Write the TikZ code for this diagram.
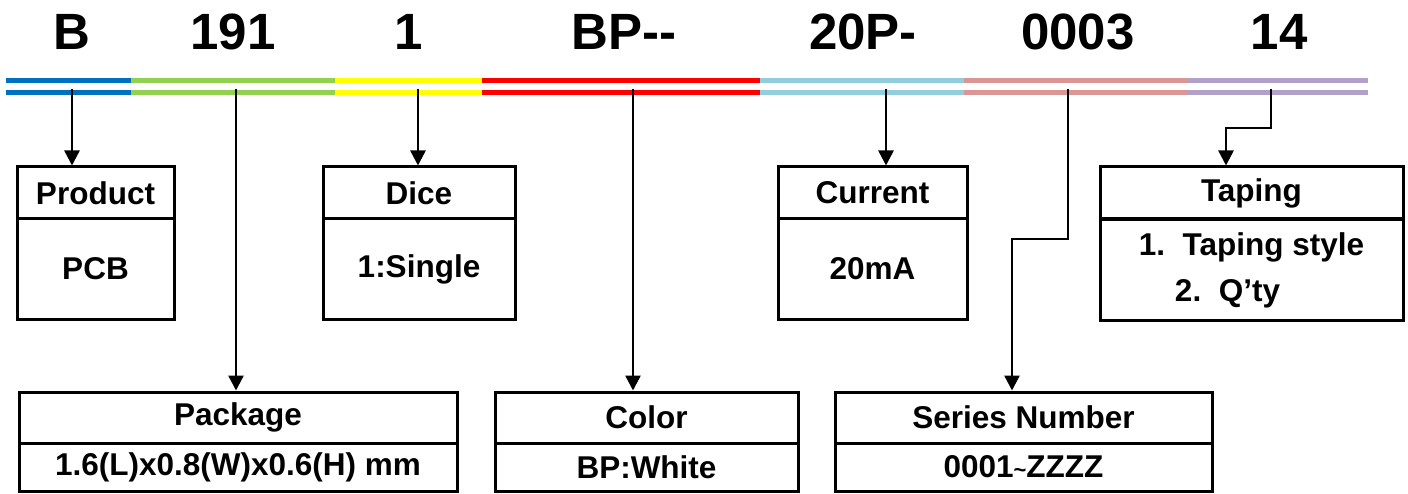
\documentclass[tikz,border=0pt]{standalone}
\usepackage{fontspec}
\setmainfont{Liberation Sans}
\usetikzlibrary{arrows.meta}

\definecolor{segblue}{HTML}{0070C0}
\definecolor{seggreen}{HTML}{92D050}
\definecolor{segyellow}{HTML}{FFFF00}
\definecolor{segred}{HTML}{FF0000}
\definecolor{segcyan}{HTML}{92CDDC}
\definecolor{segpink}{HTML}{DA9694}
\definecolor{segpurple}{HTML}{B1A0C7}

\begin{document}
\begin{tikzpicture}[line width = 2.5pt, x = 1pt, y = -1pt,
                        code/.style = {anchor = base, font = \fontsize{51}{60}\selectfont\bfseries},
                        box/.style = {rectangle, draw, line width = 3pt, inner sep = 0pt,
                                      align = center, font = \fontsize{31.5}{46}\selectfont\bfseries},
                        bar/.style = {line width = 5.3pt},
                        tip/.style = {-{Triangle[length = 15pt, width = 15pt]}}]
      \useasboundingbox (0, 0) rectangle (1408, 494);

      % part number
      \node [code] (cb) at (72, 50){B};
      \node [code] (c191) at (233, 50){191};
      \node [code] (c1) at (409, 50){1};
      \node [code] (cbp) at (624, 50){BP-{}-};
      \node [code] (c20p) at (863, 50){20P-};
      \node [code] (c0003) at (1078, 50){0003};
      \node [code] (c14) at (1279, 50){14};

      % colour bars
      \foreach \a/\b/\c in {6/131/segblue, 131/335/seggreen, 335/482/segyellow, 482/760/segred,
                            760/964/segcyan, 964/1188/segpink, 1188/1368/segpurple}{
        \draw [bar, \c] (\a, 80.5) -- (\b, 80.5);
        \draw [bar, \c] (\a, 92.5) -- (\b, 92.5);
      }

      \coordinate (pb) at (72, 89);
      \coordinate (p191) at (236, 89);
      \coordinate (p1) at (418, 89);
      \coordinate (pbp) at (633, 89);
      \coordinate (p20p) at (886, 89);
      \coordinate (p0003) at (1068, 89);
      \coordinate (p14) at (1271, 89);

      % upper boxes
      \node [box, minimum width = 157pt, minimum height = 52pt] (prodhead) at (95.5, 193){Product};
      \node [box, minimum width = 157pt, minimum height = 100pt] (prodbody) at (95.5, 269){PCB};
      \node [box, minimum width = 192pt, minimum height = 52pt] (dicehead) at (419, 193){Dice};
      \node [box, minimum width = 192pt, minimum height = 100pt] (dicebody) at (419, 269){1:Single};
      \node [box, minimum width = 189pt, minimum height = 52pt] (curhead) at (872.5, 193){Current};
      \node [box, minimum width = 189pt, minimum height = 100pt] (curbody) at (872.5, 269){20mA};
      \node [box, minimum width = 303pt, minimum height = 52pt] (taphead) at (1251.5, 193){Taping};
      \node [box, minimum width = 303pt, minimum height = 100pt] (tapbody) at (1251.5, 270)
            {1.\ \ Taping style\\2.\ \ Q’ty\hspace*{48pt}};

      % lower boxes
      \node [box, minimum width = 438pt, minimum height = 51pt] (pkghead) at (238, 417.5){Package};
      \node [box, minimum width = 438pt, minimum height = 48pt] (pkgbody) at (238, 467){1.6(L)x0.8(W)x0.6(H) mm};
      \node [box, minimum width = 303pt, minimum height = 51pt] (colhead) at (646.5, 417.5){Color};
      \node [box, minimum width = 303pt, minimum height = 48pt] (colbody) at (646.5, 467){BP:White};
      \node [box, minimum width = 377pt, minimum height = 51pt] (serhead) at (1023.5, 417.5){Series Number};
      \node [box, minimum width = 377pt, minimum height = 48pt] (serbody) at (1023.5, 467)
            {0001{\fontsize{22}{22}\selectfont\textasciitilde}ZZZZ};

      % arrows
      \draw [tip] (pb) -- (pb |- prodhead.north);
      \draw [tip] (p191) -- (p191 |- pkghead.north);
      \draw [tip] (p1) -- (p1 |- dicehead.north);
      \draw [tip] (pbp) -- (pbp |- colhead.north);
      \draw [tip] (p20p) -- (p20p |- curhead.north);
      \draw [tip] (p0003) -- (p0003 |- 0, 239) -| ([xshift = -11.5pt]serhead.north);
      \draw [tip] (p14) -- (p14 |- 0, 128) -| ([xshift = -25.5pt]taphead.north);
    \end{tikzpicture}
\end{document}
